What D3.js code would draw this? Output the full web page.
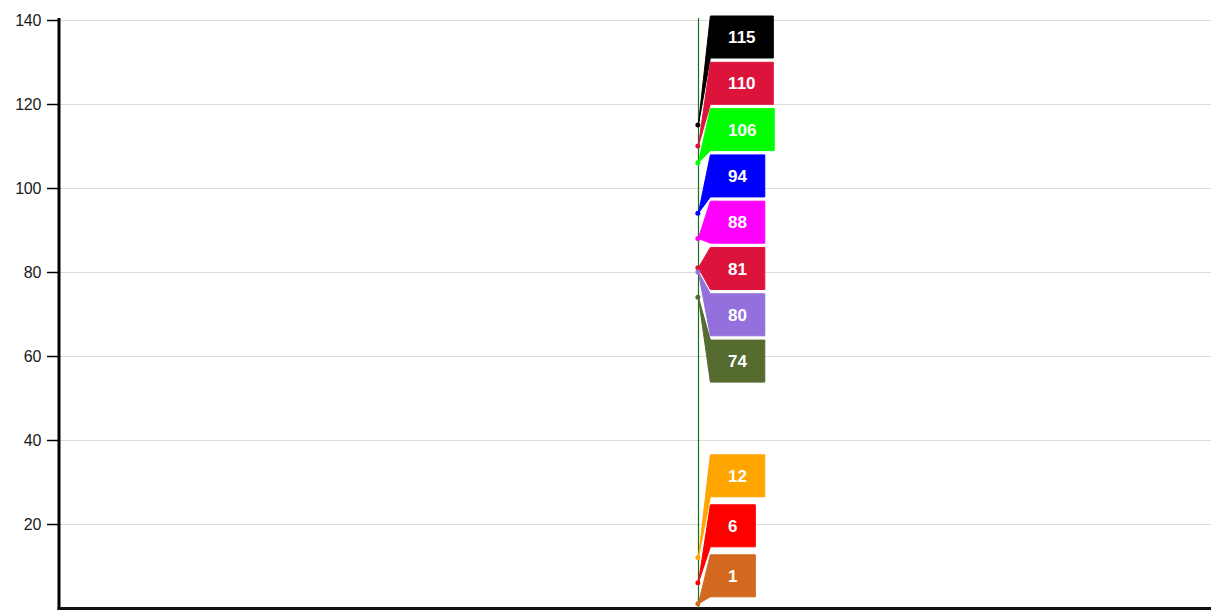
<!DOCTYPE html>
<html>
<head>
<meta charset="utf-8">
<script src="https://cdn.jsdelivr.net/npm/d3@7"></script>
<style>
    html, body { margin: 0; padding: 0; background: #fff; }
    #chart { width: 1211px; height: 610px; }
    text { font-family: Arial, "Liberation Sans", sans-serif; }
</style>
</head>
<body>
<div id="chart"></div>
<script>
// Values of the flags, all on the same x position
const values = [115, 110, 106, 94, 88, 81, 80, 74, 12, 6, 1];
const colors = ["#000000", "#dc143c", "#00ff00", "#0000ff", "#ff00ff", "#dc143c",
                "#9370db", "#556b2f", "#ffa500", "#ff0000", "#d2691e"];
const yTicks = [20, 40, 60, 80, 100, 120, 140];
const yDomain = [0, 140];
const xDomain = [0, 100];
const eventX = 55.5;

document.addEventListener("DOMContentLoaded", () => {
    const width = 1211;
    const height = 610;
    const margin = { top: 20, right: 0, bottom: 2, left: 59 };

    const x = d3.scaleLinear().domain(xDomain).range([margin.left, width - margin.right]);
    const y = d3.scaleLinear().domain(yDomain).range([height - margin.bottom, margin.top]);

    const svg = d3.select("#chart")
        .append("svg")
        .attr("width", width)
        .attr("height", height);

    // Grid lines
    svg.append("g")
        .selectAll("line")
        .data(yTicks)
        .enter()
        .append("line")
        .attr("x1", margin.left)
        .attr("x2", width)
        .attr("y1", d => Math.round(y(d)) + 0.5)
        .attr("y2", d => Math.round(y(d)) + 0.5)
        .attr("stroke", "#dcdcdc")
        .attr("stroke-width", 1);

    // Y axis
    const yAxis = svg.append("g")
        .attr("transform", `translate(${margin.left},0)`)
        .call(d3.axisLeft(y).tickValues(yTicks).tickSize(12).tickPadding(6));
    yAxis.select(".domain").remove();
    yAxis.selectAll(".tick line").attr("stroke", "#000").attr("stroke-width", 1.5);
    yAxis.selectAll(".tick text")
        .style("font-size", "16px")
        .style("letter-spacing", "-0.3px")
        .style("fill", "#1a1a1a");

    svg.append("line")
        .attr("x1", margin.left).attr("x2", margin.left)
        .attr("y1", y(140) - 2).attr("y2", height)
        .attr("stroke", "#000")
        .attr("stroke-width", 3);

    // Bottom axis line
    svg.append("line")
        .attr("x1", margin.left - 1.5).attr("x2", width)
        .attr("y1", y(0) + 0.5).attr("y2", y(0) + 0.5)
        .attr("stroke", "#111")
        .attr("stroke-width", 3);

    // Event line
    const ax = x(eventX);
    svg.append("line")
        .attr("x1", Math.round(ax) + 0.5).attr("x2", Math.round(ax) + 0.5)
        .attr("y1", y(140) - 2).attr("y2", y(0))
        .attr("stroke", "#17701a")
        .attr("stroke-width", 1.2);

    // Flag layout
    const boxH = 42;
    const gapUp = 8;
    const gapDown = 4.3;
    const offset = 7;
    const topLimit = 16;

    const flags = values.map((v, i) => ({ value: v, color: colors[i], ay: y(v) }));
    const asc = flags.slice().sort((a, b) => a.value - b.value);

    // push upward from the lowest one
    asc.forEach((f, i) => {
        let bottom = f.ay - offset;
        if (i > 0) bottom = Math.min(bottom, asc[i - 1].top - gapUp);
        f.top = bottom - boxH;
    });
    // then push back down from the top edge
    const desc = asc.slice().reverse();
    desc.forEach((f, i) => {
        if (i === 0) f.top = Math.max(f.top, topLimit);
        else f.top = Math.max(f.top, desc[i - 1].top + boxH + gapDown);
    });

    const bx = ax + 12;

    const flag = svg.append("g")
        .selectAll(".flag")
        .data(desc)
        .enter()
        .append("g")
        .attr("class", "flag");

    const label = flag.append("text")
        .attr("y", d => d.top + boxH / 2)
        .attr("dy", "0.36em")
        .attr("text-anchor", "middle")
        .style("font-size", "17px")
        .style("font-weight", "bold")
        .style("fill", "#fff")
        .text(d => d.value);

    label.each(function (d) { d.w = this.getComputedTextLength() + 35.5; });
    label.attr("x", d => bx + d.w / 2);

    flag.insert("path", "text")
        .attr("d", d => {
            const t = d.top, b = d.top + boxH;
            return `M${ax},${d.ay}L${bx},${t}L${bx + d.w},${t}L${bx + d.w},${b}L${bx},${b}Z`;
        })
        .attr("fill", d => d.color)
        .attr("stroke", d => d.color)
        .attr("stroke-width", 1)
        .attr("stroke-linejoin", "round");

    // Anchor points
    svg.append("g")
        .selectAll("circle")
        .data(desc)
        .enter()
        .append("circle")
        .attr("cx", ax - 0.5)
        .attr("cy", d => d.ay)
        .attr("r", 2.5)
        .attr("fill", d => d.color);
});
</script>
</body>
</html>
